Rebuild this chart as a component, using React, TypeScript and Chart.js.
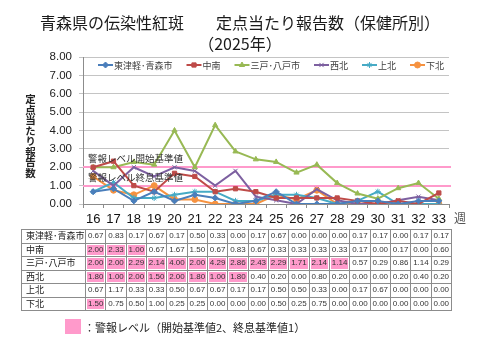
import React, { useEffect, useRef } from "react";
import { Chart, registerables } from "chart.js";
import { drawPoint } from "chart.js/helpers";

Chart.register(...registerables);

// ---- data ----
const weeks = ["16", "17", "18", "19", "20", "21", "22", "23", "24", "25", "26", "27", "28", "29", "30", "31", "32", "33"];
const regions = ["東津軽･青森市", "中南", "三戸･八戸市", "西北", "上北", "下北"];

const higashiTsugaruAomori = [0.67, 0.83, 0.17, 0.67, 0.17, 0.5, 0.33, 0.0, 0.17, 0.67, 0.0, 0.0, 0.0, 0.17, 0.17, 0.0, 0.17, 0.17];
const chunan = [2.0, 2.33, 1.0, 0.67, 1.67, 1.5, 0.67, 0.83, 0.67, 0.33, 0.33, 0.33, 0.33, 0.17, 0.0, 0.17, 0.0, 0.6];
const sannoheHachinohe = [2.0, 2.0, 2.29, 2.14, 4.0, 2.0, 4.29, 2.86, 2.43, 2.29, 1.71, 2.14, 1.14, 0.57, 0.29, 0.86, 1.14, 0.29];
const seihoku = [1.8, 1.0, 2.0, 1.5, 2.0, 1.8, 1.0, 1.8, 0.4, 0.2, 0.0, 0.8, 0.2, 0.0, 0.0, 0.2, 0.4, 0.2];
const kamikita = [0.67, 1.17, 0.33, 0.33, 0.5, 0.67, 0.67, 0.17, 0.17, 0.5, 0.5, 0.33, 0.0, 0.17, 0.67, 0.0, 0.0, 0.0];
const shimokita = [1.5, 0.75, 0.5, 1.0, 0.25, 0.25, 0.0, 0.0, 0.0, 0.5, 0.25, 0.75, 0.0, 0.0, 0.0, 0.0, 0.0, 0.0];

const seriesValues = [higashiTsugaruAomori, chunan, sannoheHachinohe, seihoku, kamikita, shimokita];

const yTickValues = [0, 1, 2, 3, 4, 5, 6, 7, 8];
const alertStartLevel = 2;
const alertEndLevel = 1;
// whether each region was already in alert before week 16
const alertBeforeFirstWeek = [false, false, false, true, false, true];

const titleLine1 = "青森県の伝染性紅斑　　定点当たり報告数（保健所別）";
const titleLine2 = "（2025年）";
const yAxisTitle = "定点当たり報告数";
const alertStartLabel = "警報レベル開始基準値";
const alertEndLabel = "警報レベル終息基準値";
const weekUnit = "週";
const footnote = "：警報レベル（開始基準値2、終息基準値1）";

// ---- styles ----
const colors = ["#4A7EBB", "#BE4B48", "#98B954", "#7D60A0", "#46AAC5", "#F69240"];
const pointStyles = ["rectRot", "rect", "triangle", "crossRot", "star", "circle"];
const pink = "#FF9ACB";
const cjk = '"Noto Sans CJK JP", "Noto Sans", sans-serif';

function alertFlags(values: number[], initial: boolean): boolean[] {
  let state = initial;
  return values.map((v) => {
    if (!state && v >= alertStartLevel) state = true;
    else if (state && v < alertEndLevel) state = false;
    return state;
  });
}

const overlayPlugin = {
  id: "overlay",
  beforeDatasetsDraw(chart: any) {
    const { ctx, chartArea, scales } = chart;
    const y = scales.y;
    ctx.save();
    ctx.strokeStyle = pink;
    ctx.lineWidth = 2;
    [alertStartLevel, alertEndLevel].forEach((lv) => {
      const py = Math.round(y.getPixelForValue(lv));
      ctx.beginPath();
      ctx.moveTo(chartArea.left, py);
      ctx.lineTo(chartArea.right + 2, py);
      ctx.stroke();
    });
    ctx.restore();
  },
  afterDatasetsDraw(chart: any) {
    const { ctx, chartArea, scales } = chart;
    const y = scales.y;
    ctx.save();
    // alert labels
    ctx.font = `9.5px ${cjk}`;
    ctx.fillStyle = "#333";
    ctx.textBaseline = "middle";
    ctx.textAlign = "left";
    ctx.fillText(alertStartLabel, chartArea.left + 5, y.getPixelForValue(alertStartLevel) - 9);
    ctx.fillText(alertEndLabel, chartArea.left + 5, y.getPixelForValue(alertEndLevel) - 8);

    // legend
    const ly = 65;
    let lx = 98;
    ctx.font = `9px ${cjk}`;
    chart.data.datasets.forEach((ds: any, i: number) => {
      ctx.strokeStyle = colors[i];
      ctx.fillStyle = colors[i];
      ctx.lineWidth = 2;
      ctx.beginPath();
      ctx.moveTo(lx, ly);
      ctx.lineTo(lx + 15, ly);
      ctx.stroke();
      ctx.lineWidth = 1;
      drawPoint(ctx, { pointStyle: pointStyles[i], radius: 3, rotation: 0, borderWidth: 1 } as any, lx + 7.5, ly);
      ctx.fillStyle = "#404040";
      ctx.fillText(ds.label, lx + 16, ly + 0.5);
      lx += 16 + ctx.measureText(ds.label).width + 14;
    });

    // week unit
    ctx.font = `12px ${cjk}`;
    ctx.fillStyle = "#555";
    ctx.fillText(weekUnit, 454, 218);
    ctx.restore();
  },
};

export default function App() {
  const canvasRef = useRef<HTMLCanvasElement>(null);

  useEffect(() => {
    const canvas = canvasRef.current;
    if (!canvas) return;
    const chart = new Chart(canvas, {
      type: "line",
      data: {
        labels: weeks,
        datasets: regions.map((name, i) => ({
          label: name,
          data: seriesValues[i],
          borderColor: colors[i],
          backgroundColor: colors[i],
          borderWidth: 2,
          pointStyle: pointStyles[i] as any,
          pointRadius: 3,
          pointBorderWidth: 1,
          pointBorderColor: colors[i],
          pointBackgroundColor: colors[i],
          tension: 0,
        })),
      },
      options: {
        responsive: false,
        animation: false,
        devicePixelRatio: 1,
        layout: { padding: { top: 57, left: 0, right: 31, bottom: 126 } },
        plugins: { legend: { display: false }, title: { display: false }, tooltip: { enabled: false } },
        scales: {
          x: {
            type: "category",
            offset: true,
            grid: { offset: true, drawOnChartArea: false, drawTicks: true, tickLength: 4, color: "#8c8c8c" },
            border: { color: "#8c8c8c" },
            ticks: { color: "#111", font: { size: 13, family: '"Liberation Sans", Arial, sans-serif' }, padding: 4, maxRotation: 0, autoSkip: false },
            afterFit: (s: any) => { s.height = 30; },
          },
          y: {
            min: 0,
            max: 8,
            afterBuildTicks: (s: any) => { s.ticks = yTickValues.map((v) => ({ value: v })); },
            grid: { color: "#c4c4c4", tickLength: 4, drawTicks: true },
            border: { color: "#8c8c8c" },
            ticks: {
              color: "#222",
              font: { size: 11.5, family: '"Liberation Sans", Arial, sans-serif' },
              padding: 7,
              callback: (v: any) => Number(v).toFixed(2),
            },
            afterFit: (s: any) => { s.width = 83; },
          },
        },
      },
      plugins: [overlayPlugin],
    });
    return () => chart.destroy();
  }, []);

  const tdBase: React.CSSProperties = {
    border: "1px solid #8c8c8c",
    padding: 0,
    height: 12.5,
    lineHeight: "12px",
    textAlign: "center",
    fontFamily: '"Liberation Sans", Arial, sans-serif',
    fontSize: 8,
    color: "#333",
    whiteSpace: "nowrap",
    overflow: "hidden",
  };

  return (
    <div style={{ position: "absolute", left: 0, top: 0, width: 480, height: 360, background: "#fff", overflow: "hidden" }}>
      <canvas ref={canvasRef} width={480} height={360} style={{ position: "absolute", left: 0, top: 0, width: 480, height: 360 }} />
      <div style={{ position: "absolute", left: 0, top: 12, width: 480, textAlign: "center", fontFamily: cjk, fontSize: 16, lineHeight: "21px", color: "#1a1a1a" }}>
        <div>{titleLine1}</div>
        <div>{titleLine2}</div>
      </div>
      <div style={{ position: "absolute", left: 24, top: 94, writingMode: "vertical-rl", fontFamily: cjk, fontSize: 10.5, fontWeight: "bold", color: "#222", lineHeight: "12px", letterSpacing: 0 }}>
        {yAxisTitle}
      </div>
      <table style={{ position: "absolute", left: 21, top: 229, borderCollapse: "collapse", tableLayout: "fixed", width: 430, border: "1.5px solid #666" }}>
        <colgroup>
          <col style={{ width: 64 }} />
          {weeks.map((w) => (<col key={w} style={{ width: 366 / weeks.length }} />))}
        </colgroup>
        <tbody>
          {regions.map((name, r) => {
            const flags = alertFlags(seriesValues[r], alertBeforeFirstWeek[r]);
            return (
              <tr key={name}>
                <td style={{ ...tdBase, textAlign: "left", paddingLeft: 4, fontFamily: cjk, fontSize: 9, color: "#222" }}>{name}</td>
                {seriesValues[r].map((v, c) => (
                  <td key={c} style={{ ...tdBase, background: flags[c] ? pink : "#fff", boxShadow: flags[c] ? "inset 0 0 0 1px #fff" : undefined }}>
                    {v.toFixed(2)}
                  </td>
                ))}
              </tr>
            );
          })}
        </tbody>
      </table>
      <div style={{ position: "absolute", left: 65, top: 319, width: 16, height: 15, background: pink }} />
      <div style={{ position: "absolute", left: 84, top: 319, fontFamily: cjk, fontSize: 11, lineHeight: "16px", color: "#222", whiteSpace: "nowrap" }}>
        {footnote}
      </div>
    </div>
  );
}
